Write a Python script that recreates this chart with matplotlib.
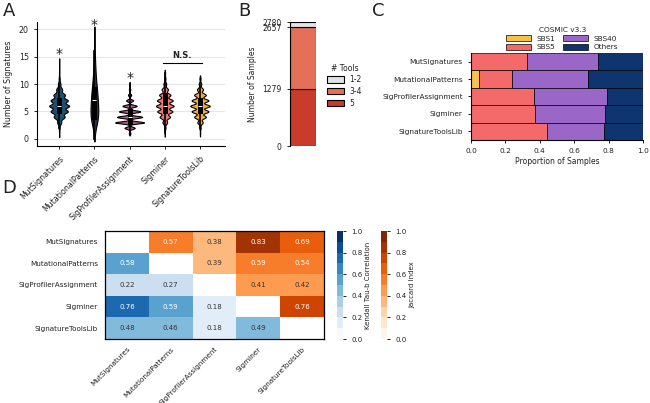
import numpy as np
import pandas as pd
import matplotlib
matplotlib.use("Agg")
import matplotlib.pyplot as plt
import seaborn as sns

# ---- data ----
tools = ["MutSignatures", "MutationalPatterns", "SigProfilerAssignment", "Sigminer", "SignatureToolsLib"]
tool_colors = ["#1d4f6e", "#302c4f", "#b0598a", "#ec7676", "#f2ab3a"]

# panel A: number of samples with n signatures (n -> count)
nsig_mutsig = {1: 5, 2: 30, 3: 120, 4: 330, 5: 520, 6: 600, 7: 520, 8: 350, 9: 180, 10: 75, 11: 30, 12: 12, 13: 5, 14: 3}
nsig_mutpat = {0: 15, 1: 50, 2: 120, 3: 230, 4: 300, 5: 320, 6: 300, 7: 280, 8: 250, 9: 210, 10: 170,
               11: 130, 12: 100, 13: 80, 14: 60, 15: 45, 16: 35, 17: 25, 18: 20, 19: 15, 20: 10}
nsig_spa = {1: 40, 2: 250, 3: 700, 4: 620, 5: 520, 6: 350, 7: 170, 8: 80, 9: 35, 10: 15}
nsig_sigminer = {1: 10, 2: 40, 3: 150, 4: 330, 5: 480, 6: 560, 7: 500, 8: 360, 9: 200, 10: 90, 11: 40, 12: 20}
nsig_stl = {1: 10, 2: 40, 3: 160, 4: 350, 5: 500, 6: 580, 7: 500, 8: 350, 9: 180, 10: 75, 11: 35}
star_tools = [0, 1, 2]
star_y = [14.7, 20.0, 10.4]

# panel B
b_labels = ["1-2", "3-4", "5"]
b_counts = [123, 1378, 1279]
b_colors = ["#e3e3e3", "#e4705a", "#c93b2d"]

# panel C
sig_names = ["SBS1", "SBS5", "SBS40", "Others"]
sig_colors = ["#f8c147", "#f46a6a", "#9a67c8", "#0f3570"]
sbs1 = [0.0, 0.048, 0.0, 0.0, 0.0]
sbs5 = [0.324, 0.189, 0.368, 0.374, 0.444]
sbs40 = [0.416, 0.445, 0.425, 0.407, 0.331]
others = [0.260, 0.318, 0.207, 0.219, 0.225]

# panel D: upper = Jaccard index, lower = Kendall tau-b
jaccard = [[np.nan, 0.57, 0.38, 0.83, 0.69],
           [np.nan, np.nan, 0.39, 0.59, 0.54],
           [np.nan, np.nan, np.nan, 0.41, 0.42],
           [np.nan, np.nan, np.nan, np.nan, 0.76],
           [np.nan, np.nan, np.nan, np.nan, np.nan]]
kendall = [[np.nan, np.nan, np.nan, np.nan, np.nan],
           [0.58, np.nan, np.nan, np.nan, np.nan],
           [0.22, 0.27, np.nan, np.nan, np.nan],
           [0.76, 0.59, 0.18, np.nan, np.nan],
           [0.48, 0.46, 0.18, 0.49, np.nan]]

W, H = 650, 403
fig = plt.figure(figsize=(6.5, 4.03), dpi=100)

def box(l, t, r, b):
    return [l / W, 1 - b / H, (r - l) / W, (b - t) / H]

txt = "#222222"
plt.rcParams["text.color"] = txt
plt.rcParams["axes.labelcolor"] = txt
plt.rcParams["xtick.color"] = txt
plt.rcParams["ytick.color"] = txt

# ---- A: violins ----
axA = fig.add_axes(box(37, 22, 225, 146))
rows = []
for t, d in zip(tools, [nsig_mutsig, nsig_mutpat, nsig_spa, nsig_sigminer, nsig_stl]):
    vals = np.repeat(list(d.keys()), list(d.values()))
    rows.append(pd.DataFrame({"tool": t, "n": vals}))
df = pd.concat(rows)

# per-violin look (width of the widest point, kde smoothing, tail cut)
v_width = [0.57, 0.22, 0.82, 0.50, 0.55]
v_bw = [0.9, 1.0, 0.55, 0.75, 0.75]
v_cut = [2, 0.6, 2, 2, 2]
for i, t in enumerate(tools):
    sns.violinplot(data=df[df.tool == t], x="tool", y="n", order=tools,
                   color=tool_colors[i], saturation=1, inner="box", linecolor="black",
                   linewidth=0.8, bw_adjust=v_bw[i], cut=v_cut[i], width=v_width[i],
                   density_norm="width", ax=axA)
axA.set_xlim(-0.63, 4.71)
axA.set_ylim(-1.3, 21.3)
axA.set_yticks([0, 5, 10, 15, 20])
axA.yaxis.grid(True, color="#e6e6e6", lw=0.8)
axA.set_axisbelow(True)
for s in ["top", "right"]:
    axA.spines[s].set_visible(False)
axA.set_xlabel("")
axA.set_ylabel("Number of Signatures", fontsize=5.7)
axA.tick_params(labelsize=5.7, length=2.5, width=0.7)
axA.set_xticks(range(len(tools)))
axA.set_xticklabels(tools, rotation=45, ha="right", rotation_mode="anchor")
for i, y in zip(star_tools, star_y):
    axA.text(i, y, "*", ha="center", va="baseline", fontsize=10)
axA.plot([2.95, 4.06], [13.9, 13.9], color="black", lw=0.8)
axA.text(3.5, 14.3, "N.S.", ha="center", va="bottom", fontsize=6, fontweight="bold")

# ---- B: stacked bar ----
axB = fig.add_axes(box(290, 22, 316, 146))
bottom = 0
handles = {}
for lab, c, col in zip(b_labels[::-1], b_counts[::-1], b_colors[::-1]):
    handles[lab] = axB.bar(0, c, bottom=bottom, width=1, color=col, edgecolor="black", lw=0.8, label=lab)
    bottom += c
axB.set_xlim(-0.5, 0.5)
axB.set_ylim(0, sum(b_counts))
cum = np.cumsum(b_counts[::-1])
axB.set_yticks([0] + list(cum))
axB.set_xticks([])
for s in ["top", "right", "bottom"]:
    axB.spines[s].set_visible(False)
axB.tick_params(labelsize=5.5, length=2.5, width=0.7)
axB.set_ylabel("Number of Samples", fontsize=5.5)
axB.legend([handles[l] for l in b_labels], b_labels, title="# Tools", frameon=False,
           loc="upper left", bbox_to_anchor=(1.15, 0.72), fontsize=5.5, title_fontsize=5.5,
           handlelength=2.2, handleheight=0.9, labelspacing=0.35)

# ---- C: horizontal stacked bars ----
axC = fig.add_axes(box(471, 53, 643, 140))
y = np.arange(len(tools))
left = np.zeros(len(tools))
for name, vals, col in zip(sig_names, [sbs1, sbs5, sbs40, others], sig_colors):
    axC.barh(y, vals, left=left, height=1, color=col, edgecolor="black", lw=0.5, label=name)
    left += np.array(vals)
axC.set_xlim(0, 1)
axC.set_ylim(len(tools) - 0.5, -0.5)
axC.set_yticks(y)
axC.set_yticklabels(tools)
axC.set_xticks([0, 0.2, 0.4, 0.6, 0.8, 1.0])
for s in ["top", "right"]:
    axC.spines[s].set_visible(False)
axC.tick_params(labelsize=5.3, length=2.5, width=0.7)
axC.set_xlabel("Proportion of Samples", fontsize=5.5, labelpad=2)
axC.legend(title="COSMIC v3.3", ncol=2, frameon=False, loc="lower center",
           bbox_to_anchor=(0.53, 0.98), fontsize=5.3, title_fontsize=5.3,
           handlelength=3.4, handleheight=0.9, columnspacing=1.0, labelspacing=0.3,
           borderaxespad=0.2)

# ---- D: heatmap ----
axD = fig.add_axes(box(105, 231, 324, 339))
cmapK = plt.get_cmap("Blues", 10)
cmapJ = plt.get_cmap("Oranges", 10)
J = np.ma.masked_invalid(np.array(jaccard))
K = np.ma.masked_invalid(np.array(kendall))
mK = axD.pcolormesh(K, cmap=cmapK, vmin=0, vmax=1)
mJ = axD.pcolormesh(J, cmap=cmapJ, vmin=0, vmax=1)
axD.set_xlim(0, 5)
axD.set_ylim(5, 0)
for i in range(5):
    for j in range(5):
        for M in (jaccard, kendall):
            v = M[i][j]
            if not np.isnan(v):
                axD.text(j + 0.5, i + 0.5, f"{v:.2f}", ha="center", va="center", fontsize=5,
                         color="white" if v > 0.5 else "#333333")
axD.set_xticks(np.arange(5) + 0.5)
axD.set_yticks(np.arange(5) + 0.5)
axD.set_xticklabels(tools, rotation=45, ha="right", rotation_mode="anchor")
axD.set_yticklabels(tools)
axD.tick_params(labelsize=5.2, length=0, pad=5)
for s in axD.spines.values():
    s.set_linewidth(0.9)

caxK = fig.add_axes(box(337, 231, 343, 339))
caxJ = fig.add_axes(box(381, 231, 387, 339))
for cax, m, lab in [(caxK, mK, "Kendall Tau-b Correlation"), (caxJ, mJ, "Jaccard Index")]:
    cb = fig.colorbar(m, cax=cax)
    cb.outline.set_visible(False)
    cb.set_ticks([0, 0.2, 0.4, 0.6, 0.8, 1.0])
    cb.ax.tick_params(labelsize=5, length=2.5, width=0.7)
    cb.set_label(lab, fontsize=5, labelpad=2)

# panel letters
fig.text(0.004, 0.995, "A", fontsize=13, va="top")
fig.text(0.366, 0.995, "B", fontsize=13, va="top")
fig.text(0.572, 0.995, "C", fontsize=13, va="top")
fig.text(0.004, 0.555, "D", fontsize=13, va="top")

fig.savefig("out.png", dpi=100)
